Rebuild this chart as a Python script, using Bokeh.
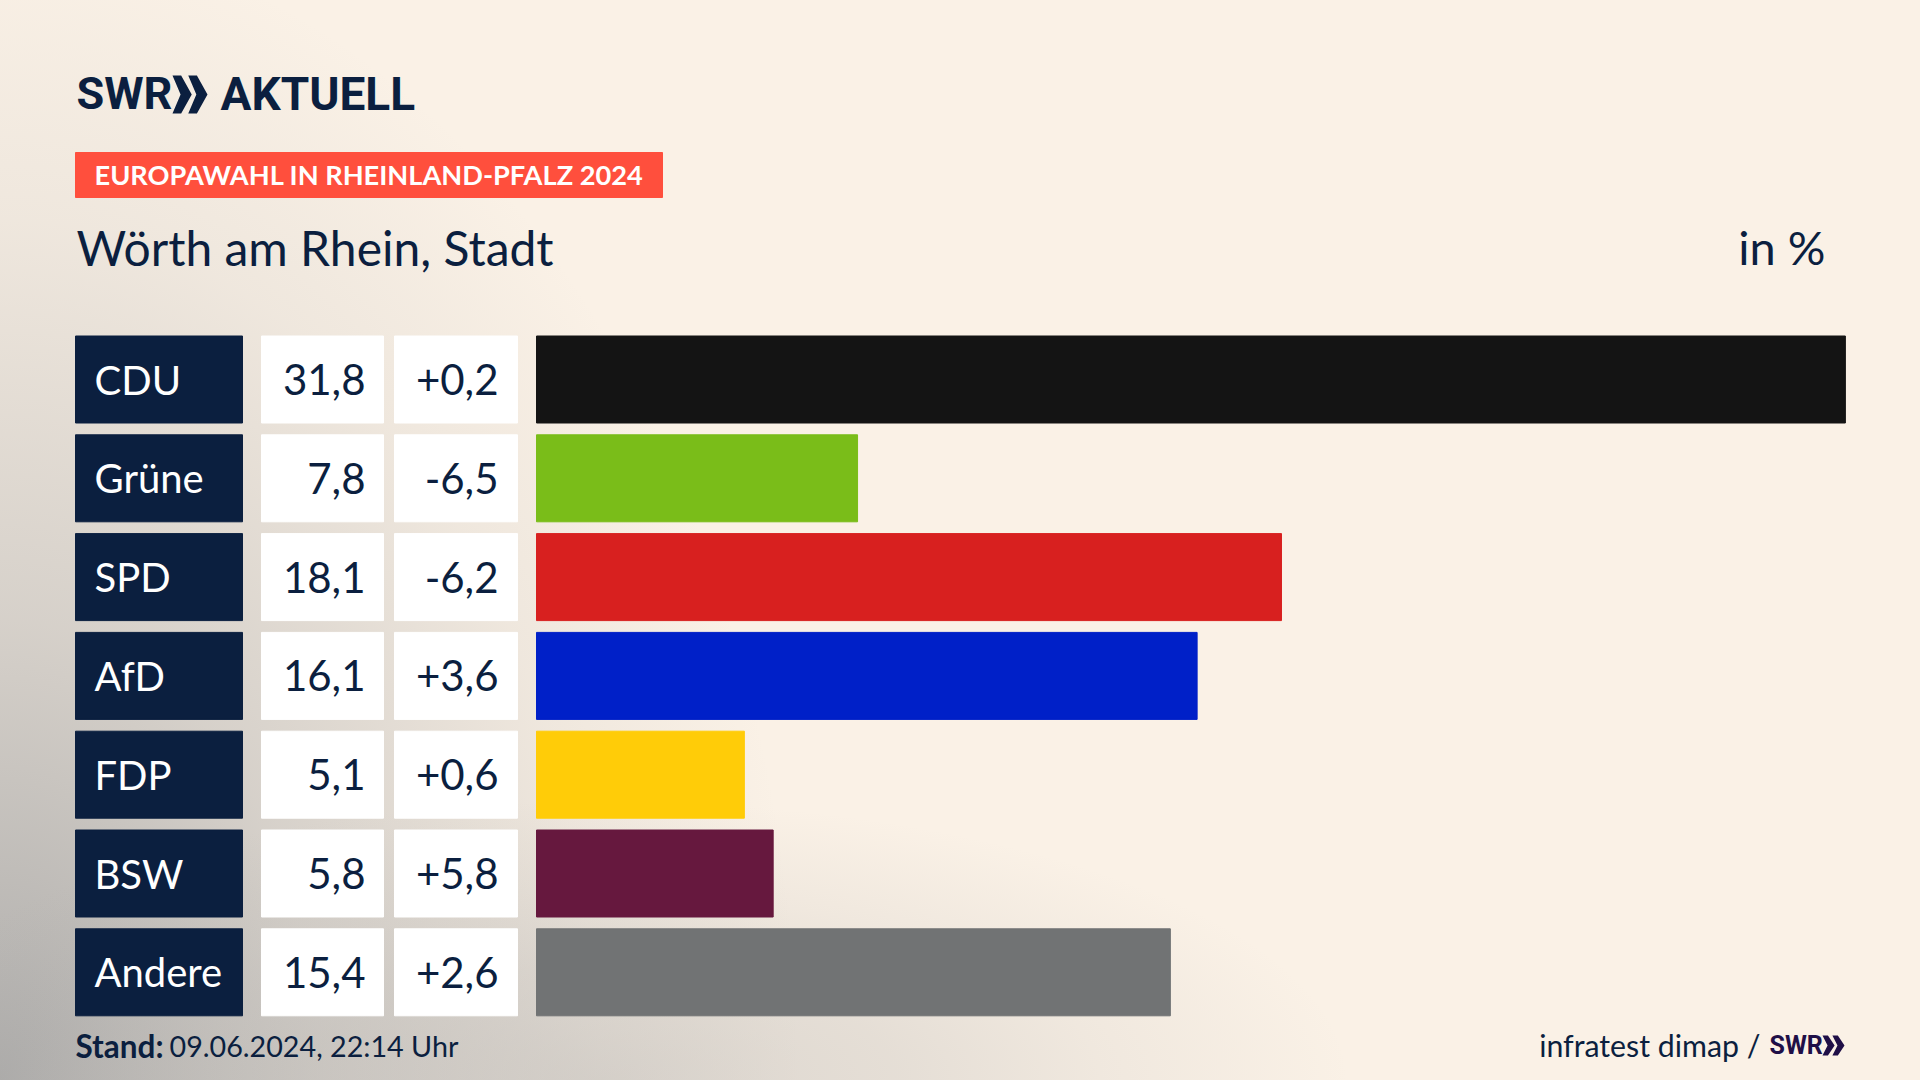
from bokeh.plotting import figure
from bokeh.core.properties import value
from bokeh.embed import file_html
from bokeh.resources import INLINE

parties = ["CDU", "Grüne", "SPD", "AfD", "FDP", "BSW", "Andere"]
bar_values = [31.8, 7.8, 18.1, 16.05, 5.05, 5.75, 15.4]
share_labels = ["31,8", "7,8", "18,1", "16,1", "5,1", "5,8", "15,4"]
change_labels = ["+0,2", "-6,5", "-6,2", "+3,6", "+0,6", "+5,8", "+2,6"]
bar_colors = ["#141414", "#7abd19", "#d8201f", "#0020c8", "#ffcc08", "#66183e", "#717374"]
title = "Wörth am Rhein, Stadt"
banner = "EUROPAWAHL IN RHEINLAND-PFALZ 2024"
unit = "in %"
stand_bold = "Stand:"
stand_rest = "09.06.2024, 22:14 Uhr"
source = "infratest dimap /"

W, H = 1920, 1080
SX = 41.16            # px per percentage point
X0 = 536              # px of value 0
ROW0, PITCH = 379, 98.8
NAVY = "#0b1f3f"
FONT = value("Lato")
LOGOFONT = value("Roboto")

def vx(px):
    return (px - X0) / SX

def vy(py):
    return (py - ROW0) / PITCH

p = figure(width=W, height=H, output_backend="svg", toolbar_location=None,
           x_range=(vx(0), vx(W)), y_range=(vy(H), vy(0)),
           min_border=0, outline_line_color=None,
           background_fill_color=None, border_fill_color=None)
p.axis.visible = False
p.grid.visible = False
p.styles = {"background":
    "radial-gradient(ellipse 750px 280px at 600px 100%, rgba(160,160,160,.34) 0%, rgba(160,160,160,.23) 40%, rgba(160,160,160,.11) 67%, rgba(160,160,160,0) 100%),"
    "radial-gradient(ellipse 800px 1150px at 0% 100%, rgba(160,160,160,.85) 0%, rgba(160,160,160,.4) 40%, rgba(160,160,160,.12) 75%, rgba(160,160,160,0) 100%),"
    "#faf1e6"}

rows = list(range(len(parties)))
h = 87 / PITCH

# Bars
p.hbar(y=rows, left=0, right=bar_values, height=h, color=bar_colors)
# Cells
p.hbar(y=rows, left=vx(75), right=vx(242), height=h, color=NAVY)
p.hbar(y=rows, left=vx(261), right=vx(383), height=h, color="#ffffff")
p.hbar(y=rows, left=vx(394), right=vx(517), height=h, color="#ffffff")

TS = "42px"
p.text(x=vx(94), y=rows, text=parties, text_font=FONT, text_font_size="40px", text_color="#ffffff",
       text_baseline="middle", text_align="left")
p.text(x=vx(365), y=rows, text=share_labels, text_font=FONT, text_font_size=TS, text_color=NAVY,
       text_baseline="middle", text_align="right")
p.text(x=vx(498), y=rows, text=change_labels, text_font=FONT, text_font_size=TS, text_color=NAVY,
       text_baseline="middle", text_align="right")

# Banner
p.quad(left=vx(75), right=vx(662), top=vy(152), bottom=vy(197), color="#ff4f3d")
p.text(x=[vx(94)], y=[vy(174)], text=[banner], text_font=FONT, text_font_style="bold", text_font_size="27.2px",
       text_color="#ffffff", text_baseline="middle", text_align="left")

# Title and unit
p.text(x=[vx(76)], y=[vy(246.5)], text=[title], text_font=FONT, text_font_size="48px", text_color=NAVY,
       text_baseline="middle", text_align="left")
p.text(x=[vx(1825)], y=[vy(246.5)], text=[unit], text_font=FONT, text_font_size="47px", text_color=NAVY,
       text_baseline="middle", text_align="right")

# Footer
p.text(x=[vx(75)], y=[vy(1045)], text=[stand_bold], text_font=FONT, text_font_style="bold", text_font_size="31.5px",
       text_color=NAVY, text_baseline="middle", text_align="left")
p.text(x=[vx(169)], y=[vy(1045)], text=[stand_rest], text_font=FONT, text_font_size="28.7px",
       text_color=NAVY, text_baseline="middle", text_align="left")
p.text(x=[vx(1760)], y=[vy(1044)], text=[source], text_font=FONT, text_font_size="30.3px",
       text_color=NAVY, text_baseline="middle", text_align="right")

# Logos
def chevrons(x, y0, y1, w, color):
    mid = (y0 + y1) / 2
    a = w * 0.55
    for dx in (0, w * 0.45):
        xs = [x + dx, x + dx + a * 0.45, x + dx + a, x + dx + a * 0.45, x + dx, x + dx + a * 0.42]
        ys = [y0, y0, mid, y1, y1, mid]
        p.patch([vx(q) for q in xs], [vy(q) for q in ys], color=color, line_color=None)

p.text(x=[vx(76)], y=[vy(93)], text=["SWR"], text_font=LOGOFONT, text_font_style="bold", text_font_size="45px",
       text_color=NAVY, text_baseline="middle", text_align="left")
chevrons(172, 75, 113, 35, NAVY)
p.text(x=[vx(220)], y=[vy(93)], text=["AKTUELL"], text_font=LOGOFONT, text_font_style="bold", text_font_size="46px",
       text_color=NAVY, text_baseline="middle", text_align="left")

LOGO2 = "#1f0f47"
p.text(x=[vx(1769)], y=[vy(1045)], text=["SWR"], text_font=LOGOFONT, text_font_style="bold", text_font_size="25px",
       text_color=LOGO2, text_baseline="middle", text_align="left")
chevrons(1822, 1035, 1055, 22, LOGO2)

open("out.html", "w").write(file_html(p, INLINE))
